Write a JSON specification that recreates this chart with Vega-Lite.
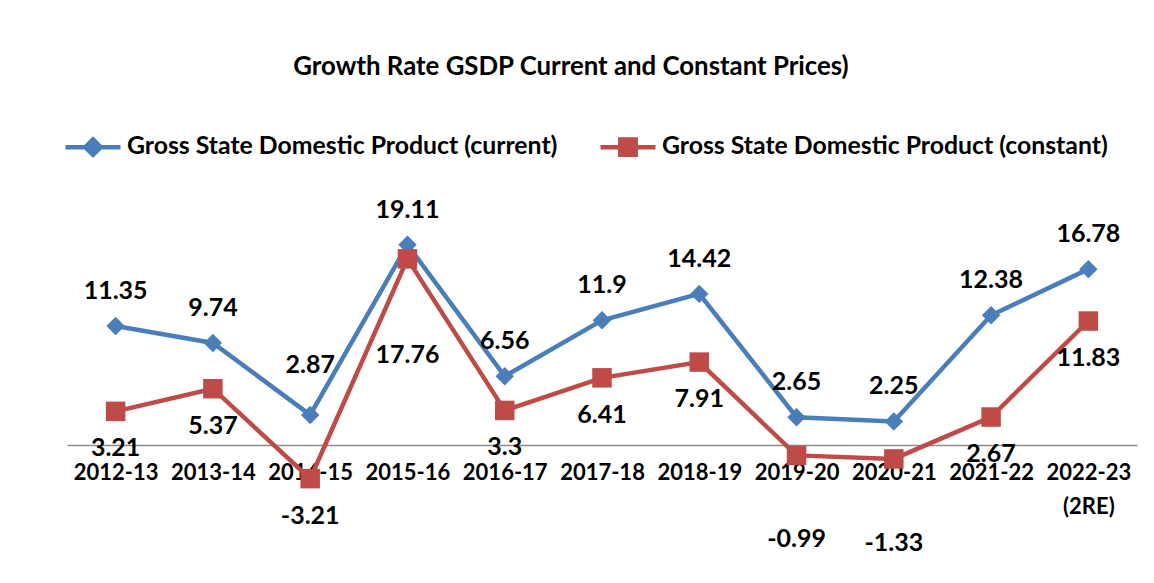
{
  "$schema": "https://vega.github.io/schema/vega-lite/v6.json",
  "width": 1070,
  "height": 262,
  "autosize": "none",
  "padding": {"left": 67, "top": 183, "right": 17, "bottom": 138},
  "background": "white",
  "config": {"view": {"stroke": null}, "font": "Lato"},
  "title": {
    "text": "Growth Rate GSDP Current and Constant Prices)",
    "font": "Lato", "fontSize": 25.8, "fontWeight": "bold", "color": "black",
    "anchor": "middle", "dx": -31, "offset": 36
  },
  "data": {
    "values": [
      {"year": "2012-13", "series": "Gross State Domestic Product (current)", "value": 11.35},
      {"year": "2013-14", "series": "Gross State Domestic Product (current)", "value": 9.74},
      {"year": "2014-15", "series": "Gross State Domestic Product (current)", "value": 2.87},
      {"year": "2015-16", "series": "Gross State Domestic Product (current)", "value": 19.11},
      {"year": "2016-17", "series": "Gross State Domestic Product (current)", "value": 6.56},
      {"year": "2017-18", "series": "Gross State Domestic Product (current)", "value": 11.9},
      {"year": "2018-19", "series": "Gross State Domestic Product (current)", "value": 14.42},
      {"year": "2019-20", "series": "Gross State Domestic Product (current)", "value": 2.65},
      {"year": "2020-21", "series": "Gross State Domestic Product (current)", "value": 2.25},
      {"year": "2021-22", "series": "Gross State Domestic Product (current)", "value": 12.38},
      {"year": "2022-23 (2RE)", "series": "Gross State Domestic Product (current)", "value": 16.78},
      {"year": "2012-13", "series": "Gross State Domestic Product (constant)", "value": 3.21},
      {"year": "2013-14", "series": "Gross State Domestic Product (constant)", "value": 5.37},
      {"year": "2014-15", "series": "Gross State Domestic Product (constant)", "value": -3.21},
      {"year": "2015-16", "series": "Gross State Domestic Product (constant)", "value": 17.76},
      {"year": "2016-17", "series": "Gross State Domestic Product (constant)", "value": 3.3},
      {"year": "2017-18", "series": "Gross State Domestic Product (constant)", "value": 6.41},
      {"year": "2018-19", "series": "Gross State Domestic Product (constant)", "value": 7.91},
      {"year": "2019-20", "series": "Gross State Domestic Product (constant)", "value": -0.99},
      {"year": "2020-21", "series": "Gross State Domestic Product (constant)", "value": -1.33},
      {"year": "2021-22", "series": "Gross State Domestic Product (constant)", "value": 2.67},
      {"year": "2022-23 (2RE)", "series": "Gross State Domestic Product (constant)", "value": 11.83}
    ]
  },
  "encoding": {
    "x": {
      "field": "year", "type": "ordinal", "sort": null,
      "axis": {
        "title": null, "labelAngle": 0, "ticks": false,
        "domainColor": "#8c8c8c", "domainWidth": 1.5,
        "labelFont": "Lato", "labelFontSize": 22, "labelFontWeight": "bold", "labelColor": "black",
        "labelPadding": 17, "labelOverlap": false, "labelLineHeight": 34,
        "labelExpr": "datum.label == '2022-23 (2RE)' ? ['2022-23', '(2RE)'] : datum.label"
      }
    },
    "y": {"field": "value", "type": "quantitative", "scale": {"domain": [0, 25]}, "axis": null},
    "color": {
      "field": "series", "type": "nominal",
      "scale": {
        "domain": ["Gross State Domestic Product (current)", "Gross State Domestic Product (constant)"],
        "range": ["#4A7EBB", "#BE4B48"]
      },
      "legend": {
        "orient": "none", "direction": "horizontal", "legendX": -4, "legendY": -66,
        "title": null, "padding": 0, "labelLimit": 800,
        "labelFont": "Lato", "labelFontSize": 24.8, "labelFontWeight": "bold", "labelColor": "black",
        "symbolSize": 3025, "labelOffset": 4, "columnPadding": 33, "symbolStrokeWidth": 4.5,
        "encode": {
          "symbols": {
            "update": {
              "shape": {"signal": "indexof(datum.value, 'current') >= 0 ? 'M-1,0H1M0,-0.28L0.28,0L0,0.28L-0.28,0Z' : 'M-1,0H1M-0.28,-0.28H0.28V0.28H-0.28Z'"},
              "fill": {"signal": "indexof(datum.value, 'current') >= 0 ? '#4A7EBB' : '#BE4B48'"},
              "stroke": {"signal": "indexof(datum.value, 'current') >= 0 ? '#4A7EBB' : '#BE4B48'"},
              "strokeWidth": {"value": 4.5},
              "opacity": {"value": 1}
            }
          }
        }
      }
    }
  },
  "layer": [
    {"mark": {"type": "line", "strokeWidth": 4.5}},
    {
      "transform": [{"filter": "indexof(datum.series, 'current') >= 0"}],
      "mark": {"type": "point", "filled": true, "size": 340, "opacity": 1, "shape": "diamond"}
    },
    {
      "transform": [{"filter": "indexof(datum.series, 'constant') >= 0"}],
      "mark": {"type": "point", "filled": true, "size": 380, "opacity": 1, "shape": "square"}
    },
    {
      "transform": [{"filter": "indexof(datum.series, 'current') >= 0 && datum.year != '2014-15'"}],
      "mark": {"type": "text", "dy": -35, "font": "Lato", "fontSize": 25, "fontWeight": "bold", "color": "black"},
      "encoding": {"text": {"field": "value", "type": "nominal"}, "color": {"value": "black"}}
    },
    {
      "transform": [{"filter": "indexof(datum.series, 'current') >= 0 && datum.year == '2014-15'"}],
      "mark": {"type": "text", "dy": -50, "font": "Lato", "fontSize": 25, "fontWeight": "bold", "color": "black"},
      "encoding": {"text": {"field": "value", "type": "nominal"}, "color": {"value": "black"}}
    },
    {
      "transform": [{"filter": "indexof(datum.series, 'constant') >= 0 && datum.year != '2019-20' && datum.year != '2020-21' && datum.year != '2015-16'"}],
      "mark": {"type": "text", "dy": 37, "font": "Lato", "fontSize": 25, "fontWeight": "bold", "color": "black"},
      "encoding": {"text": {"field": "value", "type": "nominal"}, "color": {"value": "black"}}
    },
    {
      "transform": [{"filter": "indexof(datum.series, 'constant') >= 0 && (datum.year == '2019-20' || datum.year == '2020-21')"}],
      "mark": {"type": "text", "dy": 84, "font": "Lato", "fontSize": 25, "fontWeight": "bold", "color": "black"},
      "encoding": {"text": {"field": "value", "type": "nominal"}, "color": {"value": "black"}}
    },
    {
      "transform": [{"filter": "indexof(datum.series, 'constant') >= 0 && datum.year == '2015-16'"}],
      "mark": {"type": "text", "dy": 96, "font": "Lato", "fontSize": 25, "fontWeight": "bold", "color": "black"},
      "encoding": {"text": {"field": "value", "type": "nominal"}, "color": {"value": "black"}}
    }
  ]
}
